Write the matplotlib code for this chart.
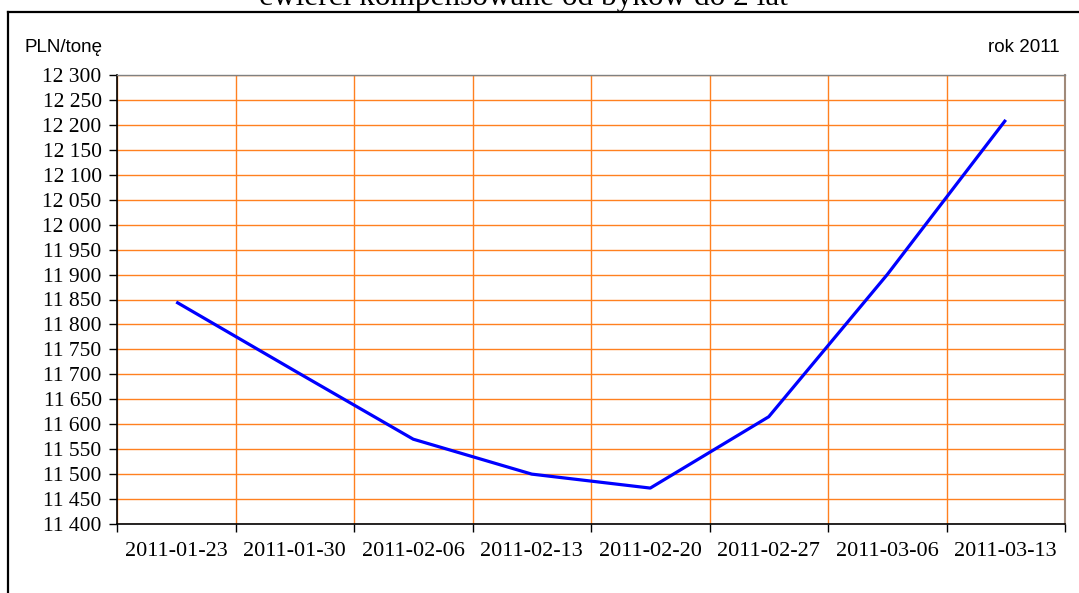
import matplotlib
matplotlib.use("Agg")
import matplotlib.pyplot as plt
from matplotlib.lines import Line2D
import numpy as np

# Data
dates = ["2011-01-23", "2011-01-30", "2011-02-06", "2011-02-13",
         "2011-02-20", "2011-02-27", "2011-03-06", "2011-03-13"]
prices = [11845, 11707, 11570, 11500, 11472, 11615, 11900, 12210]
y_ticks = list(range(11400, 12301, 50))

title = "ćwierci kompensowane od byków do 2 lat"
unit_label = "PLN/tonę"
year_label = "rok 2011"

W, H = 1079, 593
fig = plt.figure(figsize=(W / 100, H / 100), dpi=100)
ax = fig.add_axes([117 / W, 1 - 524 / H, (1065 - 117) / W, (524 - 75) / H])

serif = ["Liberation Serif", "DejaVu Serif"]
sans = ["Liberation Sans", "DejaVu Sans"]
grid_c = "#FF8020"

x = np.arange(len(dates))
ax.set_xlim(-0.5, len(dates) - 0.5)
ax.set_ylim(y_ticks[0], y_ticks[-1])

# grid
ax.set_yticks(y_ticks)
ax.set_yticklabels([f"{v:,}".replace(",", "\u00a0") for v in y_ticks], fontfamily=serif, fontsize=15.5)
ax.set_xticks(np.arange(-0.5, len(dates), 1.0))
ax.set_xticklabels([])
ax.set_xticks(x, minor=True)
ax.set_xticklabels(dates, minor=True, fontfamily=serif, fontsize=16)
ax.tick_params(axis="x", which="minor", length=0, pad=13)
ax.tick_params(axis="x", which="major", length=6, width=1, direction="out", color="black")
ax.tick_params(axis="y", length=6, width=1, direction="out", color="black", pad=5)
ax.grid(True, which="major", color=grid_c, linewidth=1)
ax.set_axisbelow(True)

ax.plot(x, prices, color="#0000FF", linewidth=2.3, solid_capstyle="butt", zorder=3)

for s in ["left", "bottom"]:
    ax.spines[s].set_color("black")
    ax.spines[s].set_linewidth(1.2)
ax.spines["top"].set_color("#808080")
ax.spines["top"].set_linewidth(1.0)
ax.spines["right"].set_color("#A08A7A")
ax.spines["right"].set_linewidth(1.5)

# texts
fig.text(25 / W, 1 - 47 / H, unit_label, fontfamily=sans, fontsize=13.5, ha="left", va="center")
fig.text(1060 / W, 1 - 47 / H, year_label, fontfamily=sans, fontsize=13.5, ha="right", va="center")
fig.text(523 / W, 1 - 5 / H, title, fontfamily=serif, fontsize=22.5, ha="center", va="baseline")

# outer frame
fig.add_artist(Line2D([8 / W, 1.0], [1 - 12 / H, 1 - 12 / H], transform=fig.transFigure, color="black", linewidth=1.6))
fig.add_artist(Line2D([8 / W, 8 / W], [1 - 12 / H, 0.0], transform=fig.transFigure, color="black", linewidth=1.6))

fig.savefig("out.png", dpi=100)
